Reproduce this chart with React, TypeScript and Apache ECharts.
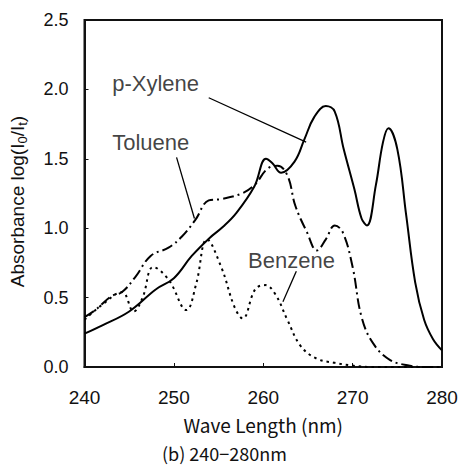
import React, { useEffect, useRef } from "react";
import * as echarts from "echarts";

// Wavelength (nm), absorbance
const xyleneData: [number, number][] = [
  [240, 0.24], [242, 0.3], [245, 0.4], [248, 0.56], [250, 0.64], [252, 0.8], [254, 0.93],
  [255.5, 1.01], [257, 1.11], [259, 1.3], [260.3, 1.5], [261, 1.47], [262, 1.4],
  [263.5, 1.48], [264.6, 1.64], [265.7, 1.8], [267, 1.88], [268, 1.84], [269, 1.57],
  [270.2, 1.28], [271, 1.07], [271.6, 1.02], [272.6, 1.31], [273.4, 1.62], [274, 1.72],
  [275, 1.57], [276, 1.09], [277, 0.61], [278, 0.34], [279, 0.2], [280, 0.12],
];
const tolueneData: [number, number][] = [
  [240, 0.36], [241.2, 0.41], [243, 0.51], [244.2, 0.54], [245.7, 0.65], [247.4, 0.8],
  [249.4, 0.86], [250.9, 0.94], [252.4, 1.06], [253.9, 1.2], [255.3, 1.21], [257.6, 1.25],
  [259, 1.31], [260.5, 1.43], [261.6, 1.45], [262.7, 1.38], [263.6, 1.16], [264.9, 0.97],
  [266, 0.84], [267, 0.92], [268, 1.02], [268.9, 0.97], [270, 0.72], [271, 0.36],
  [272.3, 0.17], [274.2, 0.05], [276.4, 0.01], [278, 0.0], [280, 0.0],
];
const benzeneData: [number, number][] = [
  [240, 0.34], [242, 0.45], [244.2, 0.54], [245.5, 0.4], [246.5, 0.5], [247.7, 0.72],
  [249.4, 0.63], [251.4, 0.41], [252.5, 0.6], [253.7, 0.92], [255.3, 0.72], [256.8, 0.43],
  [257.7, 0.35], [259.1, 0.56], [260.2, 0.59], [261.3, 0.53], [262.7, 0.34], [264.2, 0.15],
  [266, 0.06], [268, 0.03], [270, 0.01], [272, 0.0], [280, 0.0],
];

const xTicks = [240, 250, 260, 270, 280];
const yTicks = [0, 0.5, 1.0, 1.5, 2.0, 2.5];

// Annotations: label anchor and leader line (data coordinates)
const annotLabels = ["p-Xylene", "Toluene", "Benzene"];
const annotAnchors: [number, number][] = [[243.1, 2.04], [243.1, 1.62], [258.3, 0.77]];
const annotLeaders: [number, number][][] = [
  [[253.9, 1.94], [264.8, 1.62]],
  [[250.3, 1.51], [252.3, 1.07]],
  [[263.7, 0.69], [262.2, 0.47]],
];

export default function App() {
  const ref = useRef<HTMLDivElement>(null);
  useEffect(() => {
    if (!ref.current) return;
    const chart = echarts.init(ref.current, undefined, { renderer: "svg" });
    const font = "'Liberation Sans', Arial, sans-serif";
    const jp = "'Noto Sans CJK JP', sans-serif";
    const leaderSeries = annotLeaders.map((pts) => ({
      type: "line",
      data: pts,
      symbol: "none",
      lineStyle: { color: "#000", width: 1.3, type: "solid" },
      z: 3,
    }));
    chart.setOption({
      animation: false,
      backgroundColor: "#fff",
      grid: {
        left: 82, right: 23, top: 20, bottom: 99,
        show: true, borderColor: "#111", borderWidth: 2, backgroundColor: "transparent",
      },
      xAxis: {
        type: "value", min: xTicks[0], max: xTicks[xTicks.length - 1], interval: 10,
        axisLine: { show: true, lineStyle: { color: "#111", width: 2 } },
        axisTick: { show: true, inside: true, length: 4, lineStyle: { color: "#111" } },
        splitLine: { show: false },
        axisLabel: { color: "#111", fontSize: 19, fontFamily: font, margin: 21 },
        name: "Wave Length (nm)",
        nameLocation: "middle",
        nameGap: 48,
        nameTextStyle: { color: "#111", fontSize: 19, fontFamily: jp },
      },
      yAxis: {
        type: "value", min: yTicks[0], max: yTicks[yTicks.length - 1], interval: 0.5,
        axisLine: { show: true, lineStyle: { color: "#111", width: 2 } },
        axisTick: { show: true, inside: true, length: 4, lineStyle: { color: "#111" } },
        splitLine: { show: false },
        axisLabel: {
          color: "#111", fontSize: 18, fontFamily: font, margin: 16,
          formatter: (v: number) => v.toFixed(1),
        },
        name: "Absorbance log(I{s|0}/I{s|t})",
        nameLocation: "middle",
        nameGap: 56,
        nameRotate: 90,
        nameTextStyle: {
          color: "#111", fontSize: 19, fontFamily: font, padding: [0, 16, 0, 0],
          rich: { s: { fontSize: 13, fontFamily: font, color: "#111", verticalAlign: "bottom", padding: [9, 0, 0, 0] } },
        },
      },
      graphic: [
        {
          type: "text",
          left: 162,
          top: 444,
          style: { text: "(b) 240\u2212280nm", fill: "#111", font: "18px 'Noto Sans CJK JP', sans-serif" },
        },
      ],
      series: [
        {
          name: "p-Xylene", type: "line", data: xyleneData, smooth: 0.4, symbol: "none",
          lineStyle: { color: "#000", width: 2, type: "solid" }, z: 4,
        },
        {
          name: "Toluene", type: "line", data: tolueneData, smooth: 0.4, symbol: "none",
          lineStyle: { color: "#000", width: 2, type: [11, 4, 2, 4] }, z: 4,
        },
        {
          name: "Benzene", type: "line", data: benzeneData, smooth: 0.4, symbol: "none",
          lineStyle: { color: "#000", width: 2, type: [2.5, 4] }, z: 4,
        },
        ...leaderSeries,
        {
          type: "scatter",
          data: annotAnchors.map((p, i) => ({ value: p, name: annotLabels[i] })),
          symbolSize: 0,
          label: {
            show: true, position: "right", distance: 0,
            formatter: (p: any) => p.name,
            color: "#111", fontSize: 22, fontFamily: font,
          },
          z: 5,
        },
      ],
    });
    return () => chart.dispose();
  }, []);
  return <div ref={ref} style={{ width: 465, height: 466, position: "absolute", left: 0, top: 0 }} />;
}
